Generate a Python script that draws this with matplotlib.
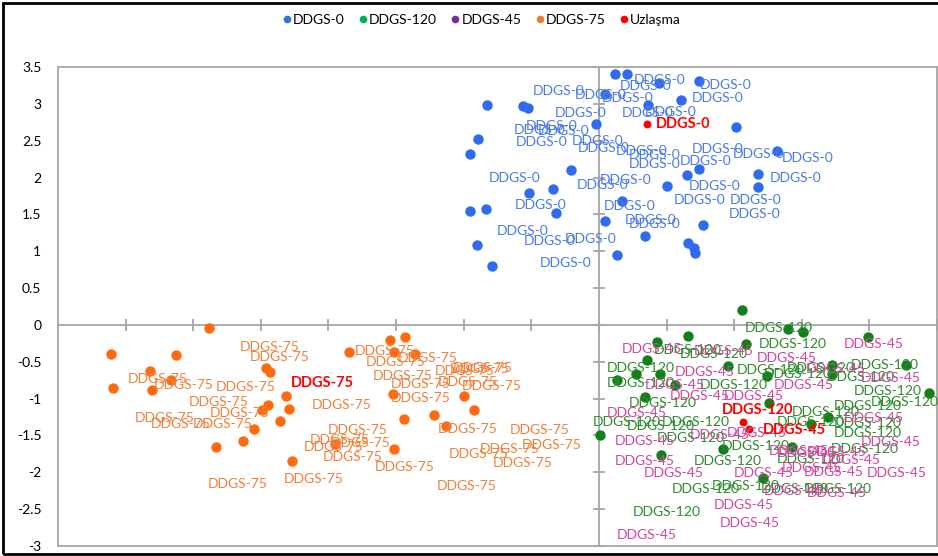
import numpy as np
import matplotlib
matplotlib.use("Agg")
import matplotlib.pyplot as plt
from matplotlib.lines import Line2D
from matplotlib.patches import Rectangle

plt.rcParams['font.family'] = ['Lato', 'DejaVu Sans']

# ---- data ----
ddgs0_x = [0.119, 0.205, 0.447, 0.741, 0.044, 0.605, 0.365, -0.824, -0.561, -0.524,
           -0.025, 1.015, -0.894, -0.956, 1.316, -0.210, 0.743, 0.649, 1.178, -0.338,
           -0.516, 0.506, 1.180, -0.956, -0.837, 0.168, -0.319, 0.044, 0.773, 0.341,
           -0.899, 0.662, 0.704, 0.711, 0.131, -0.787]
ddgs0_y = [3.40, 3.41, 3.28, 3.31, 3.14, 3.05, 2.99, 2.99, 2.97, 2.94,
           2.72, 2.68, 2.52, 2.32, 2.36, 2.10, 2.11, 2.04, 2.05, 1.85,
           1.79, 1.88, 1.87, 1.55, 1.57, 1.68, 1.52, 1.41, 1.36, 1.21,
           1.09, 1.11, 1.04, 0.97, 0.95, 0.80]
ddgs0_lab_x = [0.254, 0.156, 0.743, -0.487, -0.178, 0.020, 0.686, -0.326, 0.168, 0.341,
               -0.541, -0.630, -0.449, -0.615, -0.202, -0.153, 0.126, 0.217, 0.217, 0.600,
               0.686, 0.988, 1.353, -0.812, 0.007, -0.161, 0.662, 1.261, -0.622, 0.032,
               0.551, 0.970, 0.958, 0.193, 0.217, -0.753, -0.556, -0.252, -0.437]
ddgs0_lab_y = [3.32, 3.24, 3.25, 3.17, 3.12, 3.08, 3.08, 2.87, 2.87, 2.89,
               2.70, 2.64, 2.63, 2.48, 2.49, 2.40, 2.36, 2.31, 2.19, 2.23,
               2.39, 2.32, 2.27, 2.00, 1.97, 1.90, 1.89, 2.00, 1.63, 1.62,
               1.70, 1.69, 1.50, 1.42, 1.37, 1.27, 1.14, 1.17, 0.84]

ddgs75_x = [-2.881, -3.605, -3.126, -1.850, -3.316, -2.462, -2.432, -3.163, -3.595, -3.307,
            -2.314, -2.447, -2.494, -2.289, -2.358, -2.553, -2.635, -2.832, -1.948, -2.272,
            -1.548, -1.435, -1.519, -1.363, -1.523, -1.000, -0.926, -1.442, -1.220, -1.128,
            -1.516]
ddgs75_y = [-0.04, -0.39, -0.41, -0.37, -0.62, -0.59, -0.64, -0.75, -0.86, -0.88,
            -0.96, -1.09, -1.16, -1.14, -1.31, -1.41, -1.58, -1.66, -1.62, -1.85,
            -0.20, -0.17, -0.37, -0.40, -0.94, -0.97, -1.16, -1.27, -1.22, -1.37,
            -1.68]
ddgs75_lab_x = [-2.659, -2.580, -3.487, -3.289, -2.832, -3.030, -2.876, -3.430, -3.313, -3.005,
                -2.121, -2.005, -2.141, -2.181, -1.980, -2.042, -1.659, -2.328, -2.894, -1.807,
                -1.726, -1.487, -1.672, -1.215, -1.104, -1.084, -1.536, -1.190, -1.017, -1.536,
                -1.190, -0.659, -0.881, -1.109, -0.573, -0.783, -1.198]
ddgs75_lab_y = [-0.30, -0.44, -0.73, -0.82, -0.84, -1.05, -1.19, -1.26, -1.34, -1.34,
                -1.08, -1.42, -1.56, -1.65, -1.60, -1.79, -1.93, -2.09, -2.16, -0.36,
                -0.50, -0.45, -0.69, -0.63, -0.60, -0.58, -0.80, -0.77, -0.83, -0.99,
                -1.41, -1.43, -1.69, -1.75, -1.63, -1.87, -2.19]

ddgs120_x = [1.057, 1.398, 1.509, 1.990, 0.427, 0.657, 1.089, 0.353, 0.274, 0.452,
             0.951, 1.721, 2.272, 0.131, 1.242, 1.723, 2.439, 0.341, 0.563, 1.254,
             1.694, 1.568, 0.007, 0.921, 0.459, 1.427, 1.217]
ddgs120_y = [0.20, -0.06, -0.10, -0.16, -0.23, -0.15, -0.26, -0.48, -0.66, -0.66,
             -0.56, -0.54, -0.54, -0.75, -0.69, -0.67, -0.93, -0.98, -0.82, -1.06,
             -1.25, -1.34, -1.49, -1.69, -1.77, -1.65, -2.08]
ddgs120_lab_x = [1.081, 1.180, 0.402, 0.600, 0.057, 1.020, 1.390, 1.217, 1.859, 0.057,
                 0.748, 1.687, 1.884, 2.007, 0.217, 1.736, 1.427, -0.042, 0.205, 0.464,
                 1.316, 1.736, 1.736, 0.427, 0.909, 1.711, 1.316, 0.699, 0.835, 0.539,
                 1.193, 1.513, 0.250]
ddgs120_lab_y = [-0.04, -0.26, -0.34, -0.39, -0.59, -0.61, -0.58, -0.67, -0.55, -0.79,
                 -0.82, -0.70, -0.89, -1.05, -1.06, -1.10, -1.18, -1.32, -1.37, -1.32,
                 -1.32, -1.33, -1.47, -1.53, -1.64, -1.69, -1.82, -1.84, -2.18, -2.23,
                 -2.23, -2.23, -2.54]

ddgs45_lab_x = [0.168, 0.699, 1.168, 1.810, 0.563, 1.291, 1.526, 1.933, 0.341, 0.526,
                0.921, 0.057, 0.119, 0.674, 0.946, 1.810, 1.933, 1.254, 1.316, 1.539,
                1.637, 0.119, 0.328, 0.995, 1.513, 1.983, 1.353, 0.847, 1.539, 0.896,
                0.131, 1.217]
ddgs45_lab_y = [-0.33, -0.35, -0.45, -0.26, -0.64, -0.82, -0.60, -0.72, -0.82, -0.97,
                -0.97, -1.19, -1.58, -1.49, -1.47, -1.26, -1.59, -1.71, -1.74, -1.73,
                -1.83, -1.84, -2.01, -2.01, -2.00, -2.01, -1.94, -2.44, -2.28, -2.69,
                -2.85, -2.26]

uzl_names = ["DDGS-0", "DDGS-75", "DDGS-120", "DDGS-45"]
uzl_x = [0.358, -2.314, 1.069, 1.113]
uzl_y = [2.72, -0.96, -1.32, -1.41]
uzl_lab_x = [0.422, -2.276, 0.909, 1.213]
uzl_lab_y = [2.72, -0.785, -1.15, -1.43]

legend_names = ["DDGS-0", "DDGS-120", "DDGS-45", "DDGS-75", "Uzlaşma"]
legend_colors = ["#2E75D6", "#00B050", "#7030A0", "#ED7D31", "#FF0000"]

y_ticks = np.arange(-3, 3.51, 0.5)

# ---- figure ----
fig = plt.figure(figsize=(9.38, 5.56), dpi=100)
ax = fig.add_axes([58 / 938, 1 - 546 / 556, 879 / 938, 479 / 556])

fig.patches.append(Rectangle((3 / 938, 2 / 556), 2.0, 551 / 556, transform=fig.transFigure,
                             fill=False, edgecolor='black', linewidth=2.0, zorder=10))

grey = "#A6A6A6"
ax.axhline(0, color=grey, lw=1.3, zorder=1)
ax.axvline(0, color=grey, lw=1.3, zorder=1)
ax.plot(np.arange(-4, 2.6, 0.5), np.zeros(14), ls='none', marker='|', ms=9, mew=1.3, color=grey, zorder=1)
ax.plot(np.zeros(len(y_ticks)), y_ticks, ls='none', marker='_', ms=9, mew=1.3, color=grey, zorder=1)

fs = 10
ax.scatter(uzl_x, uzl_y, s=22, color="#FF0000", zorder=2)
ax.scatter(ddgs0_x, ddgs0_y, s=42, color="#2F6BEF", zorder=3)
ax.scatter(ddgs75_x, ddgs75_y, s=42, color="#FF6A10", zorder=3)
ax.scatter(ddgs120_x, ddgs120_y, s=42, color="#12801A", zorder=3)

for x, y in zip(ddgs0_lab_x, ddgs0_lab_y):
    ax.text(x, y, "DDGS-0", color="#4A7BE6", fontsize=fs, ha='left', va='center', zorder=4)
for x, y in zip(ddgs75_lab_x, ddgs75_lab_y):
    ax.text(x, y, "DDGS-75", color="#F0803A", fontsize=fs, ha='left', va='center', zorder=4)
for x, y in zip(ddgs120_lab_x, ddgs120_lab_y):
    ax.text(x, y, "DDGS-120", color="#2E8B2E", fontsize=fs, ha='left', va='center', zorder=4)
for x, y in zip(ddgs45_lab_x, ddgs45_lab_y):
    ax.text(x, y, "DDGS-45", color="#D2469E", fontsize=fs, ha='left', va='center', zorder=4)
for name, x, y in zip(uzl_names, uzl_lab_x, uzl_lab_y):
    ax.text(x, y, name, color="#FF0000", fontsize=fs + 0.5, fontweight='bold',
            ha='left', va='center', zorder=5)

ax.set_xlim(-4, 2.5)
ax.set_ylim(-3, 3.5)
ax.set_xticks([])
ax.set_yticks(y_ticks)
ax.set_yticklabels([f"{v:g}" for v in y_ticks])
ax.tick_params(axis='y', length=0, pad=12, labelsize=10)
for s in ax.spines.values():
    s.set_color(grey)
    s.set_linewidth(1.3)

handles = [Line2D([], [], ls='none', marker='o', ms=4.5, color=c) for c in legend_colors]
fig.legend(handles, legend_names, loc='center', bbox_to_anchor=(481 / 938, 1 - 20 / 556),
           ncol=5, frameon=False, fontsize=10, handletextpad=0.05, columnspacing=0.9,
           handlelength=0.8)

fig.savefig("out.png", dpi=100)
